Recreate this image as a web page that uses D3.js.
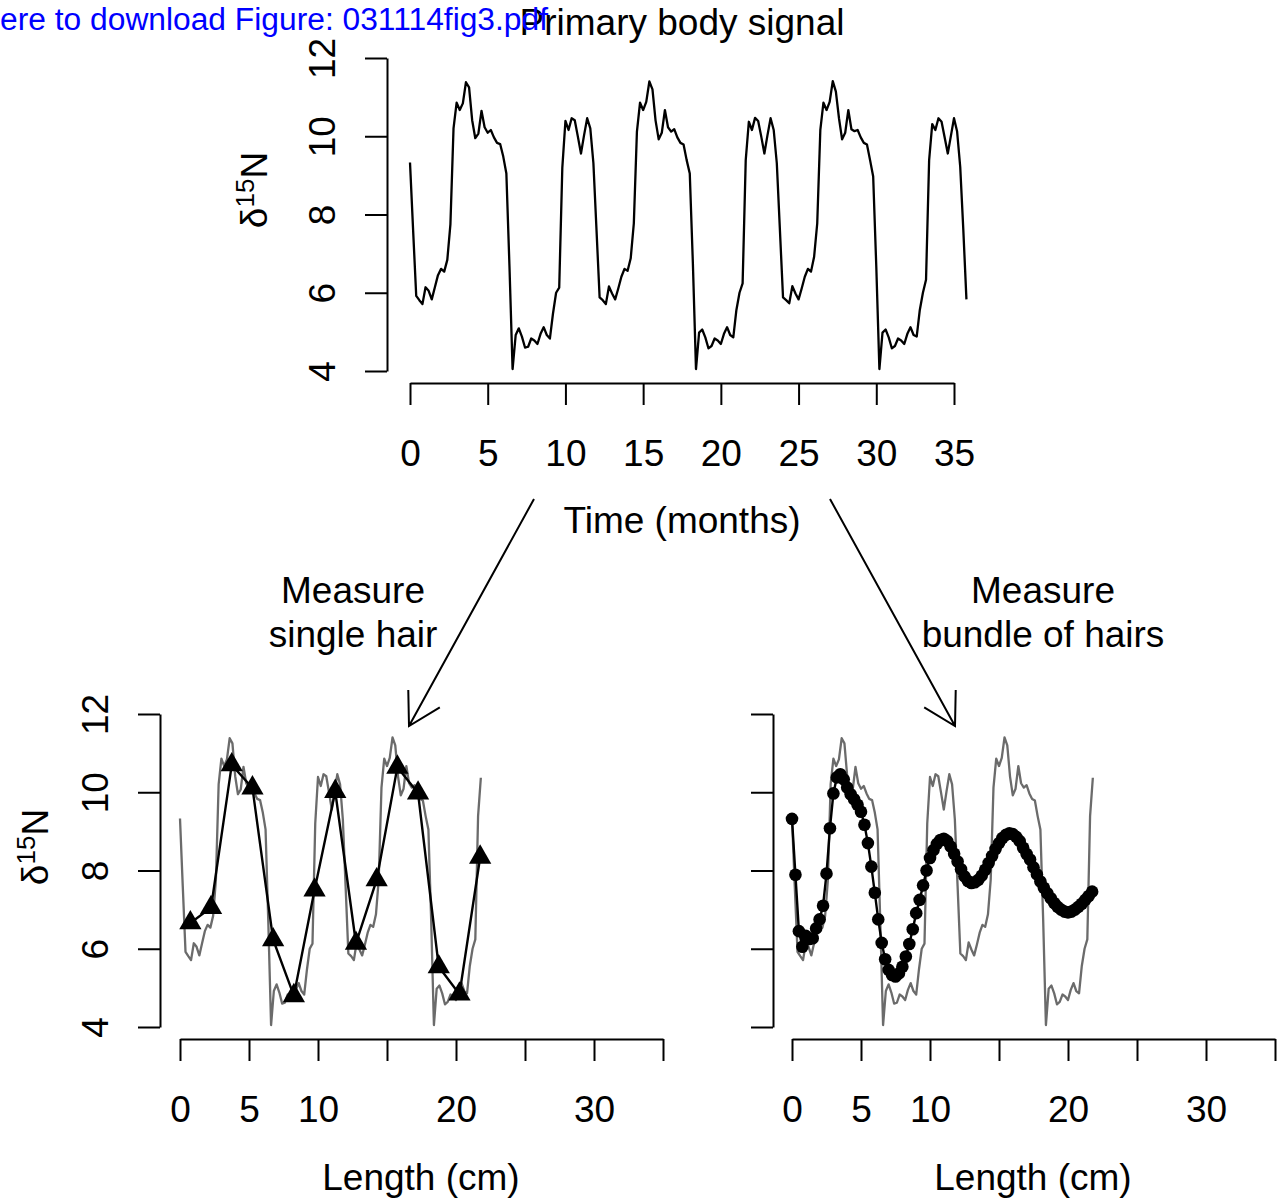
<!DOCTYPE html>
<html><head><meta charset="utf-8">
<script src="https://cdn.jsdelivr.net/npm/d3@7"></script>
<style>
html,body{margin:0;padding:0;background:#fff;}
svg{display:block;}
text{font-family:"Liberation Sans", Arial, Helvetica, sans-serif;}
</style></head><body>
<svg id="chart" width="1277" height="1203"></svg>
<script>
// ---- data ----
// primary body signal, sampled every 0.2 months (index 0 = month 0)
const signal = [
 9.33, 7.60, 5.92, 5.81, 5.71, 6.14, 6.05, 5.83, 6.14, 6.45,
 6.61, 6.54, 6.84, 7.75, 10.20, 10.86, 10.67, 10.84, 11.38, 11.25,
 10.41, 9.95, 10.07, 10.65, 10.23, 10.09, 10.16, 9.97, 9.83, 9.80,
 9.48, 9.05, 6.67, 4.05, 4.92, 5.09, 4.88, 4.60, 4.62, 4.83,
 4.78, 4.69, 4.95, 5.12, 4.92, 4.83, 5.47, 6.00, 6.13, 9.20,
 10.39, 10.16, 10.46, 10.41, 9.99, 9.56, 10.03, 10.46, 10.20,
 9.31, 7.60, 5.88, 5.81, 5.71, 6.16, 5.98, 5.83, 6.11, 6.41,
 6.61, 6.56, 6.88, 7.77, 10.12, 10.86, 10.67, 10.88, 11.40, 11.20,
 10.40, 9.92, 10.09, 10.67, 10.23, 10.12, 10.18, 9.97, 9.83, 9.79,
 9.39, 9.05, 6.75, 4.05, 4.98, 5.06, 4.86, 4.58, 4.64, 4.83,
 4.78, 4.69, 4.95, 5.12, 4.92, 4.86, 5.56, 6.00, 6.24, 9.39,
 10.37, 10.16, 10.47, 10.39, 9.99, 9.56, 10.03, 10.46, 10.16,
 9.31, 7.60, 5.88, 5.81, 5.73, 6.17, 5.98, 5.83, 6.11, 6.41,
 6.61, 6.54, 6.92, 7.77, 10.16, 10.86, 10.67, 10.88, 11.41, 11.14,
 10.46, 9.92, 10.09, 10.67, 10.18, 10.13, 10.16, 9.97, 9.83, 9.79,
 9.39, 8.97, 6.67, 4.05, 4.98, 5.06, 4.86, 4.58, 4.64, 4.83,
 4.78, 4.69, 4.95, 5.12, 4.92, 4.88, 5.56, 6.00, 6.33, 9.39,
 10.31, 10.16, 10.46, 10.37, 9.97, 9.56, 10.01, 10.46, 10.12,
 9.22, 7.60, 5.83
];
const sampleStep = 0.2;      // months (= cm of hair) per sample
const hairSamples = 110;     // samples covered by the hair panels

// single hair: 1.5 cm segments
const singleX = [0.75, 2.25, 3.75, 5.25, 6.75, 8.25, 9.75, 11.25, 12.75, 14.25, 15.75, 17.25, 18.75, 20.25, 21.75];
const singleVals = [6.66, 7.05, 10.70, 10.11, 6.23, 4.80, 7.50, 10.02, 6.14, 7.76, 10.64, 9.98, 5.54, 4.84, 8.34];

// bundle of hairs: every 0.25 cm
const bundleStep = 0.25;
const bundleVals = [
 9.32, 7.89, 6.45, 6.05, 6.33, 6.25, 6.27, 6.52, 6.75, 7.10,
 7.92, 9.08, 9.97, 10.38, 10.46, 10.33, 10.12, 9.95, 9.82, 9.68,
 9.50, 9.17, 8.70, 8.10, 7.43, 6.75, 6.15, 5.73, 5.46, 5.33,
 5.29, 5.37, 5.54, 5.80, 6.12, 6.50, 6.91, 7.25, 7.62, 8.00,
 8.32, 8.52, 8.68, 8.78, 8.81, 8.75, 8.61, 8.43, 8.23, 8.03,
 7.85, 7.73, 7.68, 7.70, 7.76, 7.87, 8.02, 8.19, 8.37, 8.55,
 8.70, 8.83, 8.91, 8.95, 8.93, 8.86, 8.75, 8.58, 8.42, 8.28,
 8.08, 7.90, 7.72, 7.56, 7.42, 7.29, 7.17, 7.07, 7.00, 6.95,
 6.93, 6.95, 7.00, 7.07, 7.15, 7.25, 7.35, 7.46
];

const xTicks = [0, 5, 10, 15, 20, 25, 30, 35];
const topXLabels = ["0", "5", "10", "15", "20", "25", "30", "35"];
const bottomXLabels = ["0", "5", "10", "", "20", "", "30", ""];
const yTicks = [4, 6, 8, 10, 12];

// ---- drawing ----
const svg = d3.select("#chart");
const FONT = '"Liberation Sans", Arial, Helvetica, sans-serif';
const FS = 37;
const LW = 2.3;

const topX = d3.scaleLinear().domain([0, 35]).range([410, 954]);
const topY = d3.scaleLinear().domain([4, 12]).range([371, 58]);
const blX = d3.scaleLinear().domain([0, 35]).range([180, 663]);
const brX = d3.scaleLinear().domain([0, 35]).range([792, 1275]);
const botY = d3.scaleLinear().domain([4, 12]).range([1027, 714]);

function styleAxis(g) {
  g.attr("font-family", FONT).attr("font-size", FS);
  g.select(".domain").attr("stroke", "#000").attr("stroke-width", 2);
  g.selectAll(".tick line").attr("stroke", "#000").attr("stroke-width", 2);
  g.selectAll(".tick text").attr("fill", "#000");
}
function xAxis(scale, yPos, labels) {
  const g = svg.append("g").attr("transform", `translate(0,${yPos})`);
  g.call(d3.axisBottom(scale).tickValues(xTicks).tickSize(22).tickSizeOuter(0)
    .tickPadding(35).tickFormat((d, i) => labels[i]));
  styleAxis(g);
}
function yAxis(scale, xPos, withLabels) {
  const g = svg.append("g").attr("transform", `translate(${xPos},0)`);
  g.call(d3.axisLeft(scale).tickValues(yTicks).tickSize(22).tickSizeOuter(0)
    .tickFormat(withLabels ? d3.format("d") : () => ""));
  styleAxis(g);
  g.selectAll(".tick text").attr("x", 0).attr("dy", 0).attr("text-anchor", "middle")
    .attr("transform", "translate(-52,0) rotate(-90)");
}
function ylab(x, y) {
  const t = svg.append("text").attr("transform", `translate(${x},${y}) rotate(-90)`)
    .attr("text-anchor", "middle").attr("font-size", FS).attr("fill", "#000");
  t.append("tspan").text("\u03B4");
  t.append("tspan").attr("font-size", 26).attr("dy", -13).text("15");
  t.append("tspan").attr("dy", 13).text("N");
}
function text(x, y, s, size, color, anchor) {
  return svg.append("text").attr("x", x).attr("y", y).attr("font-size", size || FS)
    .attr("fill", color || "#000").attr("text-anchor", anchor || "middle").text(s);
}

// top panel
xAxis(topX, 383, topXLabels);
yAxis(topY, 387, true);
const topLine = d3.line().x((d, i) => topX(i * sampleStep)).y(d => topY(d));
svg.append("path").datum(signal).attr("d", topLine)
  .attr("fill", "none").attr("stroke", "#000").attr("stroke-width", LW).attr("stroke-linejoin", "round");
ylab(267, 190);
text(682, 533, "Time (months)");
text(682, 35, "Primary body signal");
text(0, 30, "ere to download Figure: 031114fig3.pdf", 31, "#0000ff", "start").attr("textLength", 548).attr("lengthAdjust", "spacingAndGlyphs");

// bottom panels
const hairSignal = signal.slice(0, hairSamples);
function bottomPanel(xs, axisX, withYLabels) {
  xAxis(xs, 1039, bottomXLabels);
  yAxis(botY, axisX, withYLabels);
  const gl = d3.line().x((d, i) => xs(i * sampleStep)).y(d => botY(d));
  svg.append("path").datum(hairSignal).attr("d", gl)
    .attr("fill", "none").attr("stroke", "#6b6b6b").attr("stroke-width", LW).attr("stroke-linejoin", "round");
}
bottomPanel(blX, 160, true);
bottomPanel(brX, 773, false);

// single hair
const single = singleX.map((x, i) => [x, singleVals[i]]);
svg.append("path").datum(single)
  .attr("d", d3.line().x(d => blX(d[0])).y(d => botY(d[1])))
  .attr("fill", "none").attr("stroke", "#000").attr("stroke-width", 2.4);
svg.selectAll("path.tri").data(single).join("path").attr("class", "tri")
  .attr("d", d3.symbol(d3.symbolTriangle, 215))
  .attr("transform", d => `translate(${blX(d[0])},${botY(d[1])})`).attr("fill", "#000");

// bundle
const bundle = bundleVals.map((v, i) => [i * bundleStep, v]);
svg.append("path").datum(bundle)
  .attr("d", d3.line().x(d => brX(d[0])).y(d => botY(d[1])))
  .attr("fill", "none").attr("stroke", "#000").attr("stroke-width", 2.4);
svg.selectAll("circle.dot").data(bundle).join("circle").attr("class", "dot")
  .attr("cx", d => brX(d[0])).attr("cy", d => botY(d[1])).attr("r", 6.3).attr("fill", "#000");

ylab(48, 847);
text(421, 1190, "Length (cm)");
text(1033, 1190, "Length (cm)");

// arrows and annotations
function arrow(x1, y1, x2, y2) {
  const a = Math.atan2(y1 - y2, x1 - x2), L = 36, h = Math.PI / 6;
  const p = d3.path();
  p.moveTo(x1, y1); p.lineTo(x2, y2);
  p.moveTo(x2 + L * Math.cos(a + h), y2 + L * Math.sin(a + h));
  p.lineTo(x2, y2);
  p.lineTo(x2 + L * Math.cos(a - h), y2 + L * Math.sin(a - h));
  svg.append("path").attr("d", p.toString()).attr("fill", "none").attr("stroke", "#000").attr("stroke-width", 2);
}
arrow(534, 499, 409, 726);
arrow(830, 499, 955, 726);
text(353, 603, "Measure");
text(353, 647, "single hair");
text(1043, 603, "Measure");
text(1043, 647, "bundle of hairs");
</script>
</body></html>
